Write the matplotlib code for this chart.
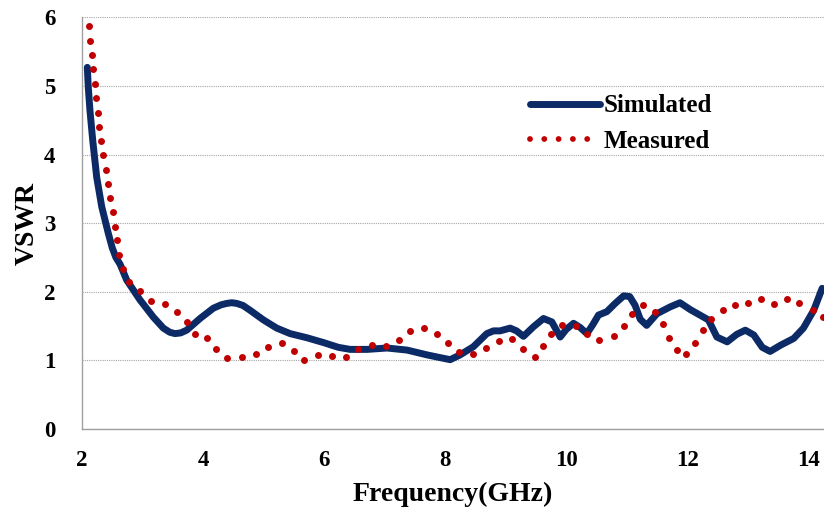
import matplotlib
matplotlib.use("Agg")
import matplotlib.pyplot as plt
from matplotlib.lines import Line2D

plt.rcParams["font.family"] = ["Liberation Serif", "DejaVu Serif"]
plt.rcParams["font.weight"] = "bold"

# Simulated VSWR curve (GHz, VSWR)
sim_freq = [2.088, 2.104, 2.132, 2.177, 2.243, 2.326, 2.435, 2.50, 2.56, 2.63,
            2.739, 2.959, 3.179, 3.344, 3.45, 3.537, 3.63, 3.730, 3.950, 4.170,
            4.30, 4.392, 4.475, 4.557, 4.66, 4.777, 4.997, 5.218, 5.438, 5.714,
            5.988, 6.236, 6.43, 6.71, 7.04, 7.37, 7.70, 7.917, 8.083, 8.248,
            8.468, 8.689, 8.80, 8.909, 9.074, 9.18, 9.294, 9.460, 9.625, 9.764,
            9.901, 10.00, 10.121, 10.23, 10.342, 10.44, 10.534, 10.672, 10.810,
            10.95, 11.05, 11.14, 11.223, 11.33, 11.50, 11.72, 11.88, 12.05,
            12.21, 12.35, 12.49, 12.66, 12.82, 12.96, 13.10, 13.24, 13.37,
            13.54, 13.76, 13.92, 14.09, 14.23]
sim_vswr = [5.27, 4.98, 4.64, 4.21, 3.67, 3.24, 2.85, 2.64, 2.50, 2.40,
            2.17, 1.88, 1.63, 1.47, 1.41, 1.39, 1.40, 1.44, 1.61, 1.76,
            1.81, 1.83, 1.84, 1.83, 1.80, 1.73, 1.59, 1.47, 1.39, 1.33,
            1.26, 1.19, 1.16, 1.16, 1.18, 1.15, 1.08, 1.04, 1.01, 1.08,
            1.20, 1.39, 1.43, 1.43, 1.47, 1.43, 1.35, 1.49, 1.61, 1.56,
            1.34, 1.45, 1.54, 1.48, 1.39, 1.52, 1.66, 1.71, 1.83,
            1.94, 1.93, 1.80, 1.60, 1.51, 1.68, 1.78, 1.84, 1.74,
            1.66, 1.59, 1.34, 1.27, 1.38, 1.44, 1.37, 1.19, 1.13,
            1.22, 1.32, 1.47, 1.73, 2.05]

# Measured VSWR samples (GHz, VSWR)
meas_freq = [2.116, 2.137, 2.160, 2.187, 2.210, 2.230, 2.260, 2.280, 2.310,
             2.350, 2.390, 2.430, 2.470, 2.510, 2.550, 2.580, 2.617, 2.673,
             2.772, 2.959, 3.136, 3.367, 3.570, 3.731, 3.863, 4.071, 4.210,
             4.402, 4.640, 4.871, 5.069, 5.301, 5.499, 5.675, 5.906, 6.137,
             6.364, 6.562, 6.788, 7.025, 7.235, 7.421, 7.648, 7.868, 8.055,
             8.236, 8.463, 8.678, 8.887, 9.107, 9.284, 9.488, 9.625, 9.747,
             9.934, 10.160, 10.352, 10.545, 10.782, 10.953, 11.086, 11.273,
             11.471, 11.592, 11.702, 11.823, 11.988, 12.127, 12.253, 12.397,
             12.584, 12.793, 13.003, 13.212, 13.433, 13.653, 13.851, 14.071,
             14.248]
meas_vswr = [5.87, 5.66, 5.45, 5.24, 5.03, 4.82, 4.61, 4.40, 4.20,
             3.99, 3.78, 3.57, 3.37, 3.16, 2.95, 2.75, 2.53, 2.33,
             2.14, 2.01, 1.87, 1.82, 1.71, 1.56, 1.38, 1.32, 1.16,
             1.03, 1.05, 1.09, 1.20, 1.26, 1.14, 1.01, 1.08, 1.06,
             1.05, 1.16, 1.22, 1.21, 1.30, 1.43, 1.47, 1.39, 1.25,
             1.12, 1.09, 1.18, 1.28, 1.31, 1.16, 1.05, 1.21, 1.39,
             1.52, 1.50, 1.39, 1.30, 1.35, 1.50, 1.68, 1.81,
             1.70, 1.53, 1.33, 1.15, 1.09, 1.26, 1.44, 1.61,
             1.74, 1.80, 1.84, 1.89, 1.82, 1.89, 1.83, 1.74,
             1.63]

x_ticks = [2, 4, 6, 8, 10, 12, 14]
y_ticks = [0, 1, 2, 3, 4, 5, 6]

navy = "#0B2A66"
red = "#C00000"

fig = plt.figure(figsize=(8.24, 5.14), dpi=100)
ax = fig.add_axes([0.0995, 0.1654, 0.9005, 0.801])

ax.plot(sim_freq, sim_vswr, color=navy, linewidth=5.0,
        solid_joinstyle="round", solid_capstyle="round", zorder=3)
ax.plot(meas_freq, meas_vswr, linestyle="none", marker="o", markersize=5.0,
        markerfacecolor=red, markeredgewidth=0, zorder=4)

ax.set_xlim(2, 14.26)
ax.set_ylim(0, 6)
ax.set_xticks(x_ticks)
ax.set_yticks(y_ticks)
ax.tick_params(axis="both", length=0, labelsize=16.5)
ax.tick_params(axis="x", pad=15)
ax.tick_params(axis="y", pad=19)

ax.grid(axis="y", linestyle=(0, (1, 1)), color="#A6A6A6", linewidth=0.8)
ax.set_axisbelow(True)
for side in ("top", "right"):
    ax.spines[side].set_visible(False)
for side in ("left", "bottom"):
    ax.spines[side].set_color("#A0A0A0")
    ax.spines[side].set_linewidth(1.0)

ax.set_xlabel("Frequency(GHz)", fontsize=20, fontweight="bold", labelpad=8)
ax.set_ylabel("VSWR", fontsize=20, fontweight="bold", labelpad=3)

handles = [
    Line2D([], [], color=navy, linewidth=5.0, solid_capstyle="round"),
    Line2D([], [], color=red, linewidth=4.2, dash_capstyle="round",
           linestyle=(0, (0.001, 2.45))),
]
ax.legend(handles, ["Simulated", "Measured"], loc="upper left",
          bbox_to_anchor=(0.604, 0.813), frameon=False, fontsize=18,
          handlelength=2.8, handletextpad=0.15, labelspacing=0.5,
          borderpad=0, borderaxespad=0)

fig.savefig("out.png", dpi=100)
